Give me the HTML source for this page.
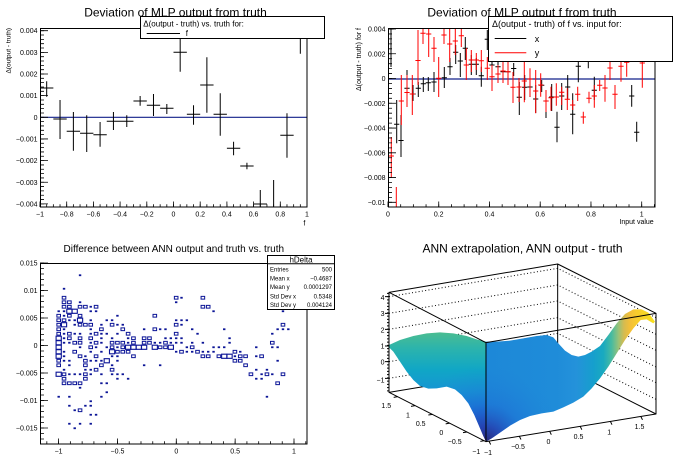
<!DOCTYPE html>
<html><head><meta charset="utf-8"><style>
html,body{margin:0;padding:0;background:#fff;width:696px;height:472px;overflow:hidden}
svg{display:block}
text{font-family:"Liberation Sans",Arial,sans-serif;fill:#000}
</style></head><body>
<svg width="696" height="472" viewBox="0 0 696 472" xmlns="http://www.w3.org/2000/svg">
<defs>
<rect id="s" x="-0.225" y="-0.2" width="0.45" height="0.4"/>
<rect id="m" x="-0.337" y="-0.311" width="0.674" height="0.622" fill="none" stroke="#0b1496" stroke-width="1" vector-effect="non-scaling-stroke"/>
<rect id="L" x="-0.487" y="-0.467" width="0.974" height="0.933" fill="none" stroke="#0b1496" stroke-width="1.1" vector-effect="non-scaling-stroke"/>
<linearGradient id="g1" gradientUnits="userSpaceOnUse" x1="0" y1="215" x2="0" y2="545">
<stop offset="0" stop-color="#4cbd90"/><stop offset="0.15" stop-color="#2cb4ac"/><stop offset="0.35" stop-color="#10a6c6"/><stop offset="0.55" stop-color="#1794d4"/><stop offset="0.75" stop-color="#1a72d8"/><stop offset="0.9" stop-color="#2150c0"/><stop offset="1" stop-color="#2e2d86"/>
</linearGradient>
<linearGradient id="g2" gradientUnits="userSpaceOnUse" x1="348" y1="0" x2="858" y2="0">
<stop offset="0" stop-color="#1d88d8"/><stop offset="0.416" stop-color="#1f8cd9"/><stop offset="0.533" stop-color="#2492da"/><stop offset="0.631" stop-color="#169fcd"/><stop offset="0.69" stop-color="#19aac0"/><stop offset="0.739" stop-color="#48bba0"/><stop offset="0.778" stop-color="#95c27a"/><stop offset="0.812" stop-color="#d6bb50"/><stop offset="0.847" stop-color="#f3bf38"/><stop offset="0.886" stop-color="#f8cc2c"/><stop offset="1" stop-color="#f9e21c"/>
</linearGradient>
<radialGradient id="dk" gradientUnits="userSpaceOnUse" cx="348" cy="545" r="230">
<stop offset="0" stop-color="#2a2878" stop-opacity="1"/><stop offset="0.2" stop-color="#2540b0" stop-opacity="0.85"/><stop offset="0.5" stop-color="#1d66d4" stop-opacity="0.4"/><stop offset="1" stop-color="#1d80d8" stop-opacity="0"/>
</radialGradient>
</defs>

<!-- ================= PAD 1 ================= -->
<text x="175.5" y="16.7" font-size="12" text-anchor="middle">Deviation of MLP output from truth</text>
<line x1="40" y1="117.3" x2="307" y2="117.3" stroke="#13208a" stroke-width="1.2"/>
<path fill="none" stroke="#000" stroke-width="1" d="M40 88h13.35M46.68 81.3V96.7M53.35 119h13.35M60.03 100V139M66.7 131.3h13.35M73.38 112V150.7M80.05 133.3h13.35M86.73 115.3V152M93.4 134.7h13.35M100.08 122V146.7M106.75 121.3h13.35M113.43 112V130M120.1 121.3h13.35M126.78 115.3V127M133.45 101h13.35M140.13 96V105.7M146.8 105.3h13.35M153.48 94V116M160.15 108.3h13.35M166.83 104V114M173.5 52.3h13.35M180.18 36.7V71.7M186.85 114.3h13.35M193.53 105.3V124.7M200.2 85h13.35M206.88 57.3V112.7M213.55 114.3h13.35M220.23 93.3V135.7M226.9 148.3h13.35M233.58 141.7V155.3M240.25 166h13.35M246.93 162.7V169.3M253.6 204h13.35M260.28 190V207M273.63 180V207M280.3 135.3h13.35M286.98 113.3V157.7M300.33 28V53.7"/>
<rect x="40.5" y="28.5" width="266.5" height="178.5" fill="none" stroke="#000"/>
<g stroke="#000">
<line x1="44" y1="30.3" x2="44" y2="207" stroke-width="8" stroke-dasharray="0.8 20.85"/>
<line x1="42" y1="30.3" x2="42" y2="207" stroke-width="4" stroke-dasharray="0.8 3.53"/>
<line x1="39.6" y1="204.25" x2="307.6" y2="204.25" stroke-width="5.5" stroke-dasharray="0.8 25.9"/>
<line x1="39.6" y1="205.65" x2="307.6" y2="205.65" stroke-width="2.7" stroke-dasharray="0.8 5.875"/>
</g>
<g font-size="7" text-anchor="end">
<text x="37.5" y="33.2">0.004</text><text x="37.5" y="54.85">0.003</text><text x="37.5" y="76.5">0.002</text><text x="37.5" y="98.15">0.001</text><text x="37.5" y="119.8">0</text><text x="37.5" y="141.45">−0.001</text><text x="37.5" y="163.1">−0.002</text><text x="37.5" y="184.75">−0.003</text><text x="37.5" y="206.4">−0.004</text>
</g>
<g font-size="7" text-anchor="middle">
<text x="40" y="216.5">−1</text><text x="66.7" y="216.5">−0.8</text><text x="93.4" y="216.5">−0.6</text><text x="120.1" y="216.5">−0.4</text><text x="146.8" y="216.5">−0.2</text><text x="173.5" y="216.5">0</text><text x="200.2" y="216.5">0.2</text><text x="226.9" y="216.5">0.4</text><text x="253.6" y="216.5">0.6</text><text x="280.3" y="216.5">0.8</text><text x="307" y="216.5">1</text>
</g>
<text x="304.3" y="225.5" font-size="7" text-anchor="middle">f</text>
<text transform="translate(10.5,28) rotate(-90)" font-size="6.5" text-anchor="end">Δ(output - truth)</text>
<rect x="140.5" y="16.5" width="184" height="22" fill="#fff" stroke="#000"/>
<text x="143.3" y="26.3" font-size="8">Δ(output - truth) vs. truth for:</text>
<line x1="146.7" y1="33.5" x2="180" y2="33.5" stroke="#000"/>
<text x="185.7" y="35.8" font-size="8">f</text>

<!-- ================= PAD 2 ================= -->
<text x="522" y="16.7" font-size="12" text-anchor="middle">Deviation of MLP output f from truth</text>
<line x1="388" y1="79" x2="655" y2="79" stroke="#13208a" stroke-width="1.2"/>
<path fill="none" stroke="#000" stroke-width="1" d="M388.4 29h5.2M391 28V67M394.1 124.3h5.2M396.7 100V143.3M398.4 140.5h5.2M401 115V157M404.4 88.3h5.2M407 70V107M410.4 94h5.2M413 85V101M415.7 88.3h5.2M418.3 82V97M420.7 83.7h5.2M423.3 77V92M425.7 82.7h5.2M428.3 77V91M431.4 82h5.2M434 72V92M441.7 77.7h5.2M444.3 67V88M447.4 66.7h5.2M450 58V75M453.1 52.3h5.2M455.7 45V64M457.7 61h5.2M460.3 53V77M462.7 48.3h5.2M465.3 37V60M468.7 64.3h5.2M471.3 55V75M473.7 64.3h5.2M476.3 58V75M478.7 75.7h5.2M481.3 66.7V86.7M484.7 39.3h5.2M487.3 30V50M489.4 65h5.2M492 58V72M495.4 66.7h5.2M498 60V72M500.4 71.7h5.2M503 65V78M505.4 71.7h5.2M508 65V78M511.1 68.5h5.2M513.7 63V76M516.7 97.3h5.2M519.3 82V115M522.1 87.3h5.2M524.7 75V100M527.4 87h5.2M530 75V97M533.1 99h5.2M535.7 85V113M539.1 85.3h5.2M541.7 80V92M543.4 101h5.2M546 90V118M549.1 97h5.2M551.7 84V111M554.4 127.3h5.2M557 111.7V142.3M559.1 96h5.2M561.7 83V110M565.1 87h5.2M567.7 75V99M570.1 114.3h5.2M572.7 93.3V134.3M575.7 66.3h5.2M578.3 61V82.3M588.3 55V68.3M591.7 90.3h5.2M594.3 76.7V100M629.1 96h5.2M631.7 85V106.7M634.1 132.3h5.2M636.7 121.7V141.7"/>
<path fill="none" stroke="#ff0000" stroke-width="1" d="M388.7 156h5.2M391.3 137V177M396.3 187V207M398.7 101h5.2M401.3 75V125M404.4 92.5h5.2M407 75V107M409.7 94h5.2M412.3 75V115M415.4 60.5h5.2M418 30V85M420.4 33.3h5.2M423 28V44M426.1 34h5.2M428.7 28V57M431.4 48.3h5.2M434 37V62M436.1 78.3h5.2M438.7 57V97M441.4 35h5.2M444 28V44M447.1 44h5.2M449.7 28V62M452.7 41h5.2M455.3 28V55M458.7 35.7h5.2M461.3 28V47M463.7 65h5.2M466.3 48V80M468.7 60h5.2M471.3 50V72M473.7 60h5.2M476.3 53V70M478.7 60.7h5.2M481.3 50V72M484.7 68.3h5.2M487.3 57V80M489.4 76.7h5.2M492 65V91M495.4 74h5.2M498 65V83M500.4 71h5.2M503 58V83M505.4 71.7h5.2M508 60V85M510.4 87.3h5.2M513 72V103M516.4 87h5.2M519 78V102M521.7 81h5.2M524.3 61.7V102.3M527.4 79h5.2M530 68.3V96.7M533.1 91h5.2M535.7 70V113.3M538.1 85h5.2M540.7 73.3V96.7M543.4 101h5.2M546 90V112M548.4 97.7h5.2M551 86.7V110.7M553.7 97h5.2M556.3 83.3V105.7M559.1 92.3h5.2M561.7 86.7V105M564.7 99.3h5.2M567.3 88.3V110M570.1 105h5.2M572.7 100V110M575.1 94.3h5.2M577.7 86.7V101M580.7 117h5.2M583.3 111.7V123.7M586.4 98.3h5.2M589 91.7V103.3M591.7 96h5.2M594.3 85V107.7M597.1 85.3h5.2M599.7 80V91M602.4 88h5.2M605 75V101.7M607.4 68h5.2M610 61V80M612.4 94.3h5.2M615 85V109M618.4 66.3h5.2M621 61V81.7M624.1 62.3h5.2M626.7 61V76.7M639.7 63h5.2M642.3 55V87.7"/>
<rect x="388.5" y="28.5" width="266.5" height="178.5" fill="none" stroke="#000"/>
<g stroke="#000">
<line x1="392" y1="28.6" x2="392" y2="207" stroke-width="8" stroke-dasharray="0.8 23.96"/>
<line x1="390" y1="28.6" x2="390" y2="207" stroke-width="4" stroke-dasharray="0.8 4.152"/>
<line x1="387.6" y1="204.25" x2="655.5" y2="204.25" stroke-width="5.5" stroke-dasharray="0.8 49.94"/>
<line x1="387.6" y1="205.65" x2="655.5" y2="205.65" stroke-width="2.7" stroke-dasharray="0.8 11.885"/>
</g>
<g font-size="7" text-anchor="end">
<text x="385.5" y="31.5">0.004</text><text x="385.5" y="56.26">0.002</text><text x="385.5" y="81">0</text><text x="385.5" y="105.8">−0.002</text><text x="385.5" y="130.5">−0.004</text><text x="385.5" y="155.3">−0.006</text><text x="385.5" y="180.1">−0.008</text><text x="385.5" y="204.8">−0.01</text>
</g>
<g font-size="7" text-anchor="middle">
<text x="388" y="216.5">0</text><text x="438.7" y="216.5">0.2</text><text x="489.5" y="216.5">0.4</text><text x="540.2" y="216.5">0.6</text><text x="591" y="216.5">0.8</text><text x="641.7" y="216.5">1</text>
</g>
<text x="653.7" y="224" font-size="7" text-anchor="end">Input value</text>
<text transform="translate(361,28) rotate(-90)" font-size="7" text-anchor="end">Δ(output - truth) for f</text>
<rect x="488.5" y="16.5" width="184" height="45" fill="#fff" stroke="#000"/>
<text x="492" y="27" font-size="9">Δ(output - truth) of f vs. input for:</text>
<line x1="494.7" y1="38.5" x2="526.3" y2="38.5" stroke="#000"/>
<text x="534.7" y="41.8" font-size="9">x</text>
<line x1="494.7" y1="52.7" x2="526.3" y2="52.7" stroke="#ff0000"/>
<text x="534.7" y="55.8" font-size="9">y</text>

<!-- ================= PAD 3 ================= -->
<text x="173.8" y="252" font-size="10" text-anchor="middle">Difference between ANN output and truth vs. truth</text>
<g transform="translate(42.67 266.25) scale(5.34 4.5)" fill="#0b1496">
<use href="#s" x="7" y="2"/>
<use href="#s" x="4" y="5"/>
<use href="#m" x="4" y="7"/><use href="#m" x="25" y="7"/><use href="#s" x="26" y="7"/><use href="#m" x="30" y="7"/>
<use href="#m" x="4" y="8"/><use href="#m" x="5" y="8"/><use href="#s" x="7" y="8"/><use href="#s" x="25" y="8"/>
<use href="#m" x="4" y="9"/><use href="#m" x="5" y="9"/><use href="#m" x="7" y="9"/><use href="#m" x="8" y="9"/><use href="#s" x="9" y="9"/><use href="#m" x="10" y="9"/><use href="#m" x="30" y="9"/><use href="#m" x="31" y="9"/>
<use href="#s" x="3" y="10"/><use href="#s" x="4" y="10"/><use href="#L" x="5" y="10"/><use href="#L" x="6" y="10"/><use href="#s" x="9" y="10"/><use href="#s" x="10" y="10"/><use href="#s" x="32" y="10"/><use href="#s" x="45" y="10"/>
<use href="#m" x="3" y="11"/><use href="#s" x="4" y="11"/><use href="#m" x="5" y="11"/><use href="#m" x="7" y="11"/><use href="#s" x="14" y="11"/><use href="#m" x="21" y="11"/>
<use href="#m" x="3" y="12"/><use href="#m" x="4" y="12"/><use href="#s" x="5" y="12"/><use href="#s" x="6" y="12"/><use href="#L" x="7" y="12"/><use href="#s" x="9" y="12"/><use href="#s" x="12" y="12"/><use href="#s" x="13" y="12"/><use href="#s" x="25" y="12"/><use href="#s" x="26" y="12"/><use href="#s" x="27" y="12"/>
<use href="#m" x="3" y="13"/><use href="#L" x="4" y="13"/><use href="#s" x="6" y="13"/><use href="#m" x="7" y="13"/><use href="#m" x="8" y="13"/><use href="#m" x="9" y="13"/><use href="#s" x="11" y="13"/><use href="#m" x="13" y="13"/><use href="#s" x="14" y="13"/><use href="#s" x="15" y="13"/><use href="#m" x="25" y="13"/><use href="#s" x="26" y="13"/><use href="#m" x="45" y="13"/>
<use href="#m" x="3" y="14"/><use href="#s" x="4" y="14"/><use href="#s" x="9" y="14"/><use href="#m" x="11" y="14"/><use href="#m" x="15" y="14"/><use href="#s" x="19" y="14"/><use href="#m" x="21" y="14"/><use href="#s" x="22" y="14"/><use href="#s" x="23" y="14"/><use href="#s" x="28" y="14"/><use href="#s" x="34" y="14"/><use href="#s" x="44" y="14"/><use href="#s" x="45" y="14"/><use href="#s" x="46" y="14"/>
<use href="#m" x="3" y="15"/><use href="#s" x="4" y="15"/><use href="#m" x="5" y="15"/><use href="#s" x="6" y="15"/><use href="#s" x="7" y="15"/><use href="#s" x="9" y="15"/><use href="#m" x="10" y="15"/><use href="#s" x="11" y="15"/><use href="#s" x="12" y="15"/><use href="#s" x="14" y="15"/><use href="#m" x="16" y="15"/><use href="#m" x="25" y="15"/><use href="#s" x="29" y="15"/><use href="#s" x="43" y="15"/>
<use href="#L" x="3" y="16"/><use href="#s" x="4" y="16"/><use href="#m" x="5" y="16"/><use href="#m" x="7" y="16"/><use href="#m" x="9" y="16"/><use href="#s" x="11" y="16"/><use href="#s" x="13" y="16"/><use href="#s" x="16" y="16"/><use href="#m" x="17" y="16"/><use href="#m" x="19" y="16"/><use href="#m" x="20" y="16"/><use href="#s" x="23" y="16"/><use href="#s" x="24" y="16"/><use href="#s" x="25" y="16"/><use href="#s" x="26" y="16"/><use href="#s" x="35" y="16"/>
<use href="#L" x="3" y="17"/><use href="#s" x="4" y="17"/><use href="#s" x="5" y="17"/><use href="#m" x="6" y="17"/><use href="#m" x="7" y="17"/><use href="#s" x="9" y="17"/><use href="#m" x="10" y="17"/><use href="#s" x="11" y="17"/><use href="#m" x="13" y="17"/><use href="#m" x="14" y="17"/><use href="#m" x="15" y="17"/><use href="#s" x="16" y="17"/><use href="#m" x="17" y="17"/><use href="#m" x="19" y="17"/><use href="#m" x="20" y="17"/><use href="#s" x="21" y="17"/><use href="#s" x="22" y="17"/><use href="#m" x="23" y="17"/><use href="#s" x="24" y="17"/><use href="#s" x="25" y="17"/><use href="#s" x="26" y="17"/><use href="#s" x="28" y="17"/><use href="#s" x="30" y="17"/><use href="#s" x="35" y="17"/><use href="#m" x="43" y="17"/>
<use href="#L" x="3" y="18"/><use href="#s" x="7" y="18"/><use href="#m" x="9" y="18"/><use href="#s" x="10" y="18"/><use href="#s" x="12" y="18"/><use href="#m" x="13" y="18"/><use href="#s" x="14" y="18"/><use href="#m" x="15" y="18"/><use href="#L" x="16" y="18"/><use href="#L" x="17" y="18"/><use href="#L" x="18" y="18"/><use href="#L" x="19" y="18"/><use href="#L" x="21" y="18"/><use href="#m" x="22" y="18"/><use href="#m" x="23" y="18"/><use href="#L" x="24" y="18"/><use href="#s" x="27" y="18"/><use href="#m" x="28" y="18"/><use href="#s" x="32" y="18"/><use href="#s" x="33" y="18"/><use href="#s" x="34" y="18"/><use href="#s" x="40" y="18"/><use href="#s" x="43" y="18"/><use href="#s" x="44" y="18"/>
<use href="#L" x="3" y="19"/><use href="#s" x="4" y="19"/><use href="#m" x="6" y="19"/><use href="#s" x="9" y="19"/><use href="#s" x="11" y="19"/><use href="#L" x="13" y="19"/><use href="#m" x="14" y="19"/><use href="#m" x="15" y="19"/><use href="#m" x="16" y="19"/><use href="#s" x="25" y="19"/><use href="#m" x="26" y="19"/><use href="#s" x="27" y="19"/><use href="#s" x="28" y="19"/><use href="#m" x="29" y="19"/><use href="#s" x="30" y="19"/><use href="#s" x="31" y="19"/><use href="#s" x="32" y="19"/><use href="#m" x="36" y="19"/><use href="#s" x="37" y="19"/>
<use href="#L" x="3" y="20"/><use href="#s" x="4" y="20"/><use href="#m" x="7" y="20"/><use href="#s" x="8" y="20"/><use href="#m" x="10" y="20"/><use href="#s" x="13" y="20"/><use href="#s" x="14" y="20"/><use href="#m" x="17" y="20"/><use href="#m" x="30" y="20"/><use href="#m" x="31" y="20"/><use href="#m" x="33" y="20"/><use href="#L" x="34" y="20"/><use href="#L" x="35" y="20"/><use href="#s" x="36" y="20"/><use href="#m" x="37" y="20"/><use href="#m" x="38" y="20"/><use href="#s" x="40" y="20"/><use href="#m" x="41" y="20"/>
<use href="#m" x="3" y="21"/><use href="#s" x="4" y="21"/><use href="#s" x="5" y="21"/><use href="#m" x="8" y="21"/><use href="#s" x="9" y="21"/><use href="#s" x="10" y="21"/><use href="#s" x="11" y="21"/><use href="#L" x="12" y="21"/><use href="#s" x="14" y="21"/><use href="#m" x="36" y="21"/><use href="#m" x="37" y="21"/><use href="#s" x="44" y="21"/>
<use href="#m" x="3" y="22"/><use href="#s" x="5" y="22"/><use href="#m" x="8" y="22"/><use href="#m" x="11" y="22"/><use href="#s" x="13" y="22"/><use href="#s" x="19" y="22"/><use href="#s" x="22" y="22"/><use href="#m" x="38" y="22"/>
<use href="#s" x="4" y="23"/><use href="#s" x="8" y="23"/><use href="#s" x="9" y="23"/><use href="#m" x="10" y="23"/><use href="#m" x="13" y="23"/><use href="#s" x="40" y="23"/><use href="#s" x="42" y="23"/>
<use href="#L" x="3" y="24"/><use href="#m" x="4" y="24"/><use href="#s" x="5" y="24"/><use href="#s" x="6" y="24"/><use href="#s" x="7" y="24"/><use href="#m" x="8" y="24"/><use href="#s" x="9" y="24"/><use href="#s" x="11" y="24"/><use href="#s" x="13" y="24"/><use href="#s" x="14" y="24"/><use href="#s" x="15" y="24"/><use href="#m" x="39" y="24"/><use href="#s" x="41" y="24"/><use href="#m" x="42" y="24"/><use href="#s" x="43" y="24"/><use href="#m" x="45" y="24"/>
<use href="#m" x="4" y="25"/><use href="#m" x="8" y="25"/><use href="#s" x="14" y="25"/><use href="#s" x="16" y="25"/><use href="#s" x="40" y="25"/><use href="#s" x="41" y="25"/>
<use href="#m" x="4" y="26"/><use href="#m" x="5" y="26"/><use href="#m" x="6" y="26"/><use href="#m" x="7" y="26"/><use href="#s" x="11" y="26"/><use href="#s" x="12" y="26"/><use href="#m" x="44" y="26"/>
<use href="#s" x="7" y="27"/>
<use href="#s" x="12" y="28"/>
<use href="#s" x="3" y="29"/><use href="#s" x="5" y="29"/><use href="#s" x="11" y="29"/><use href="#s" x="42" y="29"/>
<use href="#s" x="9" y="30"/>
<use href="#s" x="5" y="31"/><use href="#s" x="8" y="31"/><use href="#s" x="9" y="31"/>
<use href="#s" x="6" y="32"/><use href="#m" x="7" y="32"/>
<use href="#s" x="9" y="33"/><use href="#s" x="10" y="33"/>
<use href="#s" x="5" y="35"/><use href="#s" x="7" y="35"/><use href="#s" x="9" y="35"/>
<use href="#s" x="6" y="36"/>
</g>
<rect x="40.5" y="263.5" width="266.5" height="180.5" fill="none" stroke="#000"/>
<g stroke="#000">
<line x1="44" y1="262.6" x2="44" y2="444" stroke-width="8" stroke-dasharray="0.8 26.7"/>
<line x1="42" y1="262.6" x2="42" y2="444" stroke-width="4" stroke-dasharray="0.8 4.7"/>
<line x1="58.2" y1="441.25" x2="307" y2="441.25" stroke-width="5.5" stroke-dasharray="0.8 58.05"/>
<line x1="46.43" y1="442.65" x2="307" y2="442.65" stroke-width="2.7" stroke-dasharray="0.8 10.97"/>
</g>
<g font-size="7" text-anchor="end">
<text x="37.5" y="265.5">0.015</text><text x="37.5" y="293">0.01</text><text x="37.5" y="320.5">0.005</text><text x="37.5" y="348">0</text><text x="37.5" y="375.5">−0.005</text><text x="37.5" y="403">−0.01</text><text x="37.5" y="430.5">−0.015</text>
</g>
<g font-size="7" text-anchor="middle">
<text x="58.6" y="453.5">−1</text><text x="117.45" y="453.5">−0.5</text><text x="176.3" y="453.5">0</text><text x="235.15" y="453.5">0.5</text><text x="294" y="453.5">1</text>
</g>
<rect x="267.5" y="255.5" width="67" height="54" fill="#fff" stroke="#000"/>
<line x1="267.5" y1="263.7" x2="334.5" y2="263.7" stroke="#000"/>
<text x="301" y="262.3" font-size="8" text-anchor="middle">hDelta</text>
<g font-size="6">
<text x="270" y="271.5">Entries</text><text x="270" y="280.5">Mean x</text><text x="270" y="289">Mean y</text><text x="270" y="298.5">Std Dev x</text><text x="270" y="307">Std Dev y</text>
</g>
<g font-size="6" text-anchor="end">
<text x="332" y="271.5">500</text><text x="332" y="280.5">−0.4687</text><text x="332" y="289">0.0001297</text><text x="332" y="298.5">0.5348</text><text x="332" y="307">0.004124</text>
</g>

<!-- ================= PAD 4 ================= -->
<text x="522.5" y="252.5" font-size="12" text-anchor="middle">ANN extrapolation, ANN output - truth</text>
<g transform="translate(370 260) scale(0.333333)">
<path fill="none" stroke="#000" stroke-width="3" stroke-dasharray="3 7" d="M57 110L563 25L858 173M57 160L563 75L858 223M57 208L563 123L858 271M57 258L563 173L858 321M57 305L563 220L858 368M57 355L563 270L858 418"/>
<path fill="none" stroke="#000" stroke-width="3" d="M57 397L563 313L858 462M563 12V313"/>
<polygon fill="url(#g1)" points="57,255 90,240 130,228 170,220 210,217 250,220 290,228 320,238 348,245 348,545 340,528 328,500 313,465 295,430 275,405 255,388 230,380 200,385 175,386 150,378 130,360 110,335 90,305 70,275 57,262"/>
<polygon fill="url(#g2)" points="348,245 380,245 420,242 460,235 500,228 530,225 550,232 565,250 585,272 605,285 625,290 645,285 665,275 690,258 715,225 740,190 765,162 790,148 815,148 835,158 855,185 850,190 830,178 812,180 790,205 765,240 740,280 715,320 690,355 665,385 640,410 610,428 580,442 550,455 515,460 480,468 450,480 420,497 390,518 365,535 348,545"/>
<polygon fill="url(#dk)" points="57,255 90,240 130,228 170,220 210,217 250,220 290,228 320,238 348,245 348,545 340,528 328,500 313,465 295,430 275,405 255,388 230,380 200,385 175,386 150,378 130,360 110,335 90,305 70,275 57,262"/>
<polygon fill="url(#dk)" points="348,245 380,245 420,242 460,235 500,228 530,225 550,232 565,250 585,272 605,285 625,290 645,285 665,275 690,258 715,225 740,190 765,162 790,148 815,148 835,158 855,185 850,190 830,178 812,180 790,205 765,240 740,280 715,320 690,355 665,385 640,410 610,428 580,442 550,455 515,460 480,468 450,480 420,497 390,518 365,535 348,545"/>
<path fill="none" stroke="#000" stroke-width="3" stroke-linejoin="round" d="M57 97L563 12L858 160V462L348 545L57 397ZM57 97L348 248L858 160M348 248V545"/>
<path fill="none" stroke="#000" stroke-width="3" d="M45 110H57M45 160H57M45 208H57M45 258H57M45 305H57M45 355H57M83 410l-12 2M135 437l-12 2M187 463l-12 2M239 489.5l-12 2M291 516l-12 2M343 542l-12 2M357 543.5l5 10M448 528.7l5 10M539 514l5 10M630.5 499l5 10M721 484l5 10M812.5 469.4l5 10"/>
<line x1="54" y1="98.76" x2="54" y2="397" stroke="#000" stroke-width="6" stroke-dasharray="3 6.74"/>
</g>
<g font-size="7" text-anchor="end">
<text x="384.5" y="300">4</text><text x="384.5" y="315.8">3</text><text x="384.5" y="332.3">2</text><text x="384.5" y="348.5">1</text><text x="384.5" y="364.5">0</text><text x="384.5" y="382.3">−1</text>
</g>
<g font-size="7" text-anchor="middle">
<text x="386.3" y="407.8">1.5</text><text x="408" y="417.5">1</text><text x="420.7" y="426.2">0.5</text><text x="441.3" y="435.2">0</text><text x="454.7" y="444.2">−0.5</text><text x="476.3" y="454.2">−1</text>
<text x="488" y="455.2">−1</text><text x="518" y="449.2">−0.5</text><text x="548.5" y="443.8">0</text><text x="578.5" y="439">0.5</text><text x="609.2" y="434.5">1</text><text x="639.5" y="429">1.5</text>
</g>
</svg>
</body></html>
